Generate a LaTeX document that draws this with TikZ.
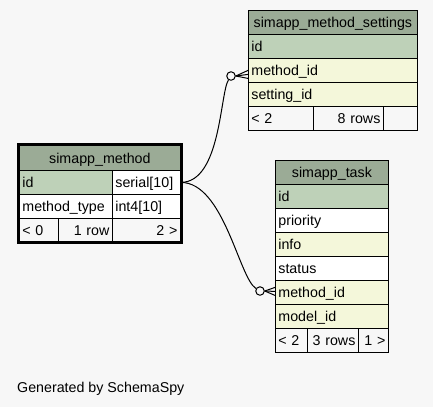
\documentclass[tikz,border=0pt]{standalone}
\usepackage{fontspec}
\setmainfont{Liberation Sans}
\usepackage{xcolor}
\definecolor{bgcol}{HTML}{F7F7F7}
\definecolor{headcol}{HTML}{9BAB96}
\definecolor{keycol}{HTML}{BED1B8}
\definecolor{idxcol}{HTML}{F4F7DA}
\usetikzlibrary{calc}

\begin{document}
\begin{tikzpicture}[
  x=1pt,
  y=-1pt,
  cell/.style={draw=black, line width=0.8pt, anchor=north west, inner xsep=3pt, inner ysep=0pt,
    minimum height=24pt, text height=13pt, text depth=2pt, align=left, font=\fontsize{14.25}{16}\selectfont},
  head/.style={cell, fill=headcol, align=center},
  key/.style={cell, fill=keycol},
  idx/.style={cell, fill=idxcol},
  plain/.style={cell, fill=white},
  foot/.style={cell, fill=bgcol},
  odot/.style={circle, draw=black, fill=bgcol, line width=1pt, minimum size=8.5pt, inner sep=0pt},
  link/.style={black, line width=1pt},
]

% Background and page size
\fill[bgcol] (0,0) rectangle (433,407);
\useasboundingbox (0,0) rectangle (433,407);

% Table simapp_method_settings
\node[head, text width=163pt] (ms-title) at (248,10) {simapp\_method\_settings};
\node[key, text width=163pt] (ms-id) at (248,34) {id};
\node[idx, text width=163pt] (ms-method) at (248,58) {method\_id};
\node[idx, text width=163pt] (ms-setting) at (248,82) {setting\_id};
\node[foot, text width=59pt] (ms-prev) at (248,106) {< 2};
\node[foot, text width=64pt, align=right] (ms-rows) at (313,106) {8 rows};
\node[foot, text width=28pt] (ms-next) at (383,106) {};

% Table simapp_method (selected, thick frame)
\node[head, text width=155pt, minimum height=25pt] (mt-title) at (19,145) {simapp\_method};
\node[key, text width=87pt] (mt-id) at (19,170) {id};
\node[plain, text width=62pt] (mt-idtype) at (112,170) {serial[10]};
\node[plain, text width=87pt] (mt-type) at (19,194) {method\_type};
\node[plain, text width=62pt] (mt-typetype) at (112,194) {int4[10]};
\node[foot, text width=33pt, minimum height=23pt] (mt-prev) at (19,218) {< 0};
\node[foot, text width=48pt, minimum height=23pt, align=right] (mt-rows) at (58,218) {1 row};
\node[foot, text width=62pt, minimum height=23pt, align=right] (mt-next) at (112,218) {2 >};

% Table simapp_task
\node[head, text width=107pt] (tk-title) at (275,160) {simapp\_task};
\node[key, text width=107pt] (tk-id) at (275,184) {id};
\node[plain, text width=107pt] (tk-prio) at (275,208) {priority};
\node[idx, text width=107pt] (tk-info) at (275,232) {info};
\node[plain, text width=107pt] (tk-status) at (275,256) {status};
\node[idx, text width=107pt] (tk-method) at (275,280) {method\_id};
\node[idx, text width=107pt] (tk-model) at (275,304) {model\_id};
\node[foot, text width=26pt] (tk-prev) at (275,328) {< 2};
\node[foot, text width=45pt, align=right] (tk-rows) at (307,328) {3 rows};
\node[foot, text width=24pt, align=right] (tk-next) at (358,328) {1 >};

% Foreign keys: curves with circle and crow's foot
\node[odot] (c1) at (231,76) {};
\node[odot] (c2) at (260,291) {};

\draw[link] (mt-idtype.east) .. controls +(40,0) and +(-11,17) .. (c1);
\draw[link] (mt-idtype.east) .. controls +(43,0) and +(-21,-13) .. (c2);

\foreach \dy in {-4,0,4}
  \draw[link] (c1.east) -- ($(ms-method.west)+(0,\dy+4)$);
\foreach \dy in {-4,0,4}
  \draw[link] (c2.east) -- ($(tk-method.west)+(0,\dy-1)$);

% Thick frame of the selected table
\draw[line width=3pt] ($(mt-title.north west)+(-0.5,-0.5)$) rectangle ($(mt-next.south east)+(0.5,0.5)$);

% Footer text
\node[anchor=base west, inner sep=0pt, font=\fontsize{14.25}{16}\selectfont] (gen) at (17,392) {Generated by SchemaSpy};

\end{tikzpicture}
\end{document}
